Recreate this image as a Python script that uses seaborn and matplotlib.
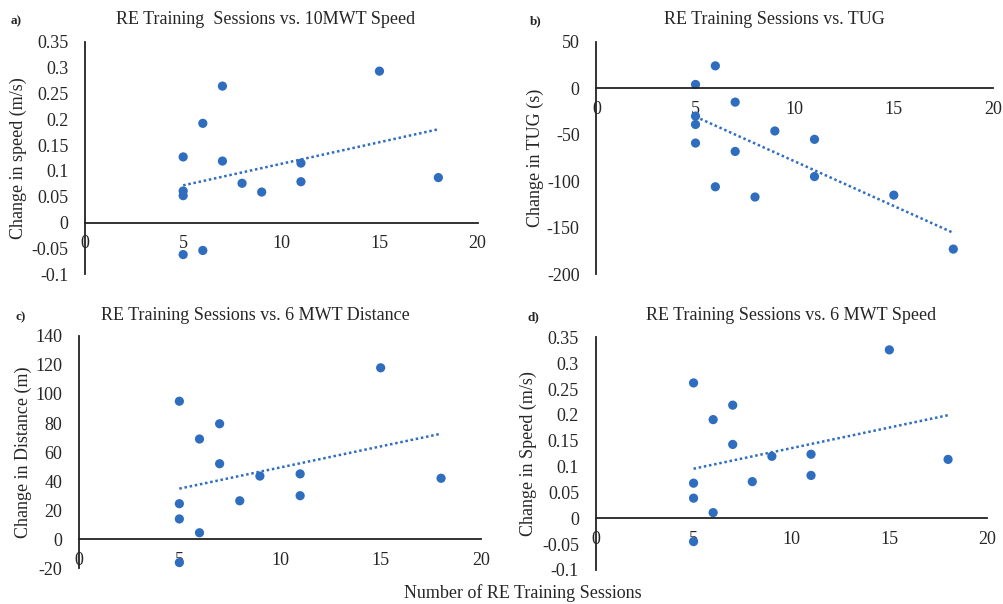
import numpy as np
import pandas as pd
import seaborn as sns
import matplotlib.pyplot as plt

# sessions per participant (same for all four outcomes)
sessions = [5, 5, 5, 5, 6, 6, 7, 7, 8, 9, 11, 11, 15, 18]

# change values
speed_10mwt = [0.127, 0.061, 0.052, -0.062, 0.192, -0.054, 0.264, 0.119, 0.076, 0.059, 0.115, 0.079, 0.293, 0.087]
tug = [4, -30, -39, -59, 24, -106, -15, -68, -117, -46, -55, -95, -115, -173]
dist_6mwt = [95, 24.5, 14, -16, 69, 4.5, 79.5, 52, 26.5, 43.5, 45, 30, 118, 42]
speed_6mwt = [0.262, 0.068, 0.039, -0.045, 0.191, 0.011, 0.219, 0.143, 0.071, 0.12, 0.124, 0.083, 0.326, 0.114]

titles = ['RE Training  Sessions vs. 10MWT Speed', 'RE Training Sessions vs. TUG',
          'RE Training Sessions vs. 6 MWT Distance', 'RE Training Sessions vs. 6 MWT Speed']
ylabels = ['Change in speed (m/s)', 'Change in TUG (s)', 'Change in Distance (m)', 'Change in Speed (m/s)']
letters = ['a)', 'b)', 'c)', 'd)']
ylims = [(-0.1, 0.35), (-200, 50), (-20, 140), (-0.1, 0.35)]
yticks = [np.arange(-0.1, 0.351, 0.05), np.arange(-200, 51, 50), np.arange(-20, 141, 20), np.arange(-0.1, 0.351, 0.05)]
ytick_labels = [['-0.1', '-0.05', '0', '0.05', '0.1', '0.15', '0.2', '0.25', '0.3', '0.35'],
                ['-200', '-150', '-100', '-50', '0', '50'],
                ['-20', '0', '20', '40', '60', '80', '100', '120', '140'],
                ['-0.1', '-0.05', '0', '0.05', '0.1', '0.15', '0.2', '0.25', '0.3', '0.35']]

sns.set_style('white')
plt.rcParams['font.family'] = ['Liberation Serif', 'DejaVu Serif']
plt.rcParams['font.size'] = 13

blue = '#2F6DBF'
fig = plt.figure(figsize=(10.04, 6.04), dpi=100)

# axes boxes in figure fractions, matched to the reference layout
boxes = [[0.0847, 0.546, 0.391, 0.385],
         [0.594, 0.546, 0.395, 0.385],
         [0.0784, 0.059, 0.401, 0.385],
         [0.5933, 0.0563, 0.390, 0.385]]
# title centre x, letter x/y, ylabel x (fig fractions)
title_x = [0.265, 0.771, 0.254, 0.788]
title_y = [0.968, 0.968, 0.478, 0.478]
letter_x = [0.011, 0.528, 0.015, 0.525]
ylabel_x = [0.018, 0.533, 0.023, 0.526]

series = [speed_10mwt, tug, dist_6mwt, speed_6mwt]

for i in range(4):
    ax = fig.add_axes(boxes[i])
    df = pd.DataFrame({'sessions': sessions, 'change': series[i]})
    sns.regplot(data=df, x='sessions', y='change', ax=ax, ci=None,
                scatter_kws={'s': 44, 'color': blue, 'edgecolor': 'none', 'alpha': 1},
                line_kws={'color': blue, 'ls': (0, (1, 1.1)), 'lw': 1.8})
    ax.set_xlim(0, 20)
    ax.set_ylim(*ylims[i])
    ax.set_xticks([0, 5, 10, 15, 20])
    ax.set_yticks(yticks[i])
    ax.set_yticklabels(ytick_labels[i])
    ax.set_xlabel('')
    ax.set_ylabel('')
    ax.spines['top'].set_visible(False)
    ax.spines['right'].set_visible(False)
    ax.spines['bottom'].set_position(('data', 0))
    for s in ['left', 'bottom']:
        ax.spines[s].set_color('#222222')
        ax.spines[s].set_linewidth(1.3)
    ax.tick_params(axis='x', length=0, pad=9, labelsize=13)
    ax.tick_params(axis='y', length=0, pad=12, labelsize=13)
    ax.patch.set_alpha(0)
    fig.text(title_x[i], title_y[i], titles[i], ha='center', va='center', fontsize=13)
    fig.text(letter_x[i], title_y[i] - 0.004, letters[i], ha='left', va='center', fontsize=9.5, fontweight='bold')
    fig.text(ylabel_x[i], boxes[i][1] + boxes[i][3] / 2, ylabels[i], rotation=90, ha='center', va='center', fontsize=13)

fig.text(0.521, 0.018, 'Number of RE Training Sessions', ha='center', va='center', fontsize=13)

fig.savefig('out.png', dpi=100, facecolor='white')
